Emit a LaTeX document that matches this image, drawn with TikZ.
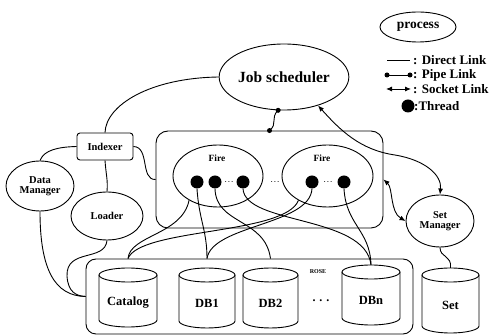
\documentclass[tikz,border=0pt]{standalone}
\usepackage{fontspec}
\setmainfont{Liberation Serif}
\usetikzlibrary{shapes.geometric,arrows.meta}
\newcommand\dbcyl[6]{% name, cx, top, bottom, half width, text
  \node[inner sep=0pt, minimum width={2*#5pt}, minimum height={(#4-#3)*1pt}] (#1) at (#2,{-(#3+#4)/2}) {};
  \draw[lw,fill=white] (#2-#5,-#3-7) -- (#2-#5,-#4+7) arc[start angle=180,end angle=360,x radius=#5pt,y radius=7pt] -- (#2+#5,-#3-7);
  \draw[lw] (#2,-#3-7) ellipse[x radius=#5pt,y radius=7pt];
  \node[cyltxt] (#1t) at (#2,{-(#3+#4)/2-5}) {#6};
}
\begin{document}
\begin{tikzpicture}[x=1pt,y=1pt,
  lw/.style={line width=0.9pt},
  ell/.style={ellipse, draw, lw, inner sep=0pt, align=center},
  thr/.style={circle, fill=black, inner sep=0pt, minimum size=13pt},
  rbox/.style={draw, lw, rounded corners=#1, inner sep=0pt},
  link/.style={lw},
  sock/.style={lw, {Latex[length=6pt,width=5pt]}-{Latex[length=6pt,width=5pt]}},
  pdot/.style={circle, fill=black, inner sep=0pt, minimum size=5pt},
  lgd/.style={font=\fontsize{13}{14}\selectfont\bfseries, inner sep=0pt},
  smalltxt/.style={font=\fontsize{10.5}{11}\selectfont\bfseries},
  firetxt/.style={font=\fontsize{9.5}{10}\selectfont\bfseries, inner sep=0pt},
  cyltxt/.style={font=\fontsize{12.5}{13}\selectfont\bfseries, inner sep=0pt},
  dotstxt/.style={font=\fontsize{10}{10}\selectfont\bfseries, inner sep=0pt}]
\useasboundingbox (0,0) rectangle (496,-336);

% ---------------- legend ----------------
\node[ell, minimum width=76pt, minimum height=30pt, font=\fontsize{13.5}{14}\selectfont\bfseries] (proc) at (418,-27) {process};
\coordinate (l1a) at (387,-60); \coordinate (l1b) at (410,-60);
\draw[link] (l1a) -- (l1b);
\node[lgd, anchor=west] (l1) at (413,-60) {: Direct Link};
\coordinate (l2a) at (387,-75); \coordinate (l2b) at (410,-75);
\draw[link] (l2a) -- (l2b);
\node[pdot] at (l2a) {}; \node[pdot] at (l2b) {};
\node[lgd, anchor=west] (l2) at (413,-75) {: Pipe Link};
\coordinate (l3a) at (386,-89); \coordinate (l3b) at (411,-89);
\draw[sock] (l3a) -- (l3b);
\node[lgd, anchor=west] (l3) at (413,-89) {: Socket Link};
\node[thr] (l4a) at (408,-106) {};
\node[lgd, anchor=west] (l4) at (414,-106) {:Thread};

% ---------------- processes ----------------
\node[ell, minimum width=124pt, minimum height=66pt, font=\fontsize{15.5}{16}\selectfont\bfseries] (js) at (284,-77) {Job scheduler};
\node[rbox=3pt, minimum width=56pt, minimum height=27pt, smalltxt] (idx) at (105,-146.5) {Indexer};
\node[ell, minimum width=68pt, minimum height=50pt, smalltxt] (dm) at (40,-186) {Data\\[-1pt]Manager};
\node[ell, minimum width=72pt, minimum height=48pt, smalltxt] (ld) at (107,-216) {Loader};
\node[ell, minimum width=68pt, minimum height=52pt, smalltxt] (sm) at (440,-221) {Set\\[-1pt]Manager};

% Fire container
\node[rbox=12pt, minimum width=227pt, minimum height=97pt] (fc) at (269.5,-179.5) {};
\node[ell, minimum width=90pt, minimum height=62pt] (f1) at (218,-176) {};
\node[ell, minimum width=91pt, minimum height=62pt] (f2) at (327.5,-176) {};
\node[firetxt] (f1l) at (217,-158) {Fire};
\node[firetxt] (f2l) at (322,-158) {Fire};
\node[thr] (t1) at (197,-182) {};
\node[thr] (t2) at (215,-182) {};
\node[thr] (t3) at (243,-182) {};
\node[thr] (t4) at (312,-182) {};
\node[thr] (t5) at (344,-182) {};
\node[dotstxt] (d1) at (229,-182) {$\cdot\!\cdot\!\cdot$};
\node[dotstxt] (d2) at (275,-182) {$\cdot\!\cdot\!\cdot$};
\node[dotstxt] (d3) at (328,-182) {$\cdot\!\cdot\!\cdot$};

% ROSE container and databases
\node[rbox=10pt, minimum width=327pt, minimum height=75pt] (rose) at (249.5,-296.5) {};
\node[font=\fontsize{6}{6}\selectfont\bfseries, inner sep=0pt] (rosel) at (318,-272) {ROSE};
\dbcyl{cat}{128}{268}{327}{29}{Catalog}
\dbcyl{db1}{207}{268}{328}{28}{DB1}
\dbcyl{db2}{270.5}{268}{328}{27.5}{DB2}
\dbcyl{dbn}{371}{265}{325}{29}{DBn}
\dbcyl{set}{450.5}{268}{333}{28.5}{Set}
\node[font=\fontsize{12}{12}\selectfont\bfseries, inner sep=0pt] (dd) at (321,-301) {.\,\,.\,\,.};

\coordinate (catT) at (cat.north |- rose.north);
\coordinate (db1T) at (db1.north |- rose.north);
\coordinate (db2T) at (db2.north |- rose.north);

% ---------------- links ----------------
\draw[link] (idx.north) .. controls (106,-105) and (150,-78) .. (js.west);
\draw[link] (idx.west) .. controls (58,-147) and (44,-150) .. (dm.north);
\draw[link] (idx.south) .. controls (106,-175) and (108,-180) .. (ld.north);
\draw[link] (idx.east) .. controls (150,-147) and (140,-180) .. (fc.west);
\draw[link] (dm.south) .. controls (40,-270) and (55,-296) .. (rose.west);
\draw[link] (ld.south) .. controls (105,-262) and (66,-248) .. (67,-276) .. controls (68,-292) and (76,-296) .. (rose.west);

% pipe link
\draw[link] (js.260) .. controls (270,-118) and (278,-124) .. (fc.north);
\node[pdot] at (js.260) {}; \node[pdot] at (fc.north) {};

% socket links
\draw[sock] (js.-40) .. controls (340,-130) and (360,-150) .. (395,-155) .. controls (425,-160) and (442,-175) .. (sm.north);
\draw[sock] (fc.east) .. controls (393,-188) and (390,-212) .. (sm.west);
\draw[link] (sm.south) .. controls (440,-258) and (452,-255) .. (set.north);

% thread / process to databases
\draw[link] (f1.220) .. controls (182,-235) and (130,-235) .. (catT);
\draw[link] (t1.south) .. controls (199,-220) and (207,-230) .. (db1T);
\draw[link] (t2.south) .. controls (216,-225) and (265,-218) .. (db2T);
\draw[link] (t3.south) .. controls (245,-225) and (365,-215) .. (dbn.north);
\draw[link] (f2.220) .. controls (285,-235) and (140,-228) .. (catT);
\draw[link] (t4.south) .. controls (310,-225) and (212,-225) .. (db1T);
\draw[link] (t5.south) .. controls (346,-225) and (370,-230) .. (dbn.north);
\end{tikzpicture}
\end{document}
